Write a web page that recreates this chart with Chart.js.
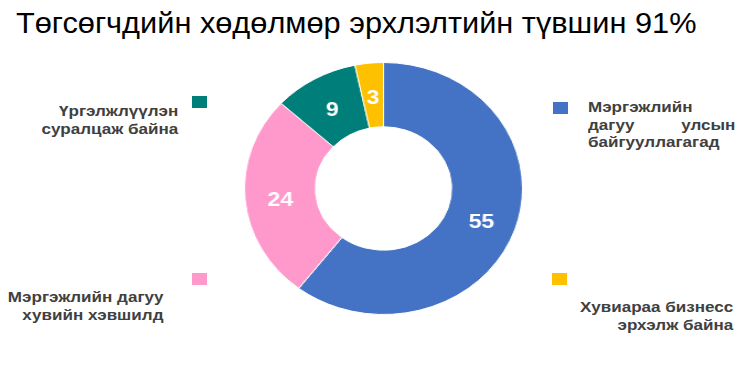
<!DOCTYPE html>
<html>
<head>
<meta charset="utf-8">
<script src="https://cdn.jsdelivr.net/npm/chart.js@4"></script>
<style>
  html, body { margin: 0; padding: 0; background: #fff; }
  body { width: 753px; height: 368px; position: relative; overflow: hidden;
         font-family: 'Liberation Sans', Arial, sans-serif; }
  .title { position: absolute; left: 16px; top: 7px; font-size: 29px; line-height: 1.15;
           color: #000; white-space: nowrap; transform: scaleX(1.06); transform-origin: left top; }
  .ring { position: absolute; left: 257px; top: 62px; width: 253px; height: 253px;
          transform: scaleX(1.103); transform-origin: center; }
  .sq { position: absolute; width: 15px; height: 12px; }
  .lbl { position: absolute; font-size: 15.5px; font-weight: bold; color: #404040;
         line-height: 17.5px; white-space: nowrap; transform: scaleX(1.1); }
  .lbl.l { transform-origin: left top; }
  .lbl.r { text-align: right; transform-origin: right top; }
  .just { display: flex; justify-content: space-between; }
</style>
</head>
<body>
<div class="title" id="title"></div>
<div class="ring"><canvas id="ringChart"></canvas></div>
<div id="legend"></div>

<script>
/* ── Data ── */
const TITLE = 'Төгсөгчдийн хөдөлмөр эрхлэлтийн түвшин 91%';
const categories = [
  'Мэргэжлийн дагуу улсын байгууллагагад',
  'Мэргэжлийн дагуу хувийн хэвшилд',
  'Үргэлжлүүлэн суралцаж байна',
  'Хувиараа бизнесс эрхэлж байна'
];
const values = [55, 24, 9, 3];
const colors = ['#4472C4', '#FF99CC', '#007E7A', '#FFC000'];

document.getElementById('title').textContent = TITLE;

/* ── Legend boxes, placed round the ring like the original ── */
const legendLayout = [
  { sq: [553, 102], box: { left: 588, top: 98, width: 134 }, align: 'l',
    lines: [['Мэргэжлийн'], ['дагуу', 'улсын'], ['байгууллагагад']] },
  { sq: [192, 273], box: { right: 590, top: 288 }, align: 'r',
    lines: [['Мэргэжлийн дагуу'], ['хувийн хэвшилд']] },
  { sq: [192, 96], box: { right: 575, top: 102 }, align: 'r',
    lines: [['Үргэлжлүүлэн'], ['суралцаж байна']] },
  { sq: [552, 273], box: { right: 20, top: 298 }, align: 'r',
    lines: [['Хувиараа бизнесс'], ['эрхэлж байна']] }
];

const legendEl = document.getElementById('legend');
legendLayout.forEach((item, i) => {
  const sq = document.createElement('div');
  sq.className = 'sq';
  sq.style.left = item.sq[0] + 'px';
  sq.style.top = item.sq[1] + 'px';
  sq.style.background = colors[i];
  legendEl.appendChild(sq);

  const lbl = document.createElement('div');
  lbl.className = 'lbl ' + item.align;
  Object.keys(item.box).forEach(k => { lbl.style[k] = item.box[k] + 'px'; });
  item.lines.forEach(words => {
    const line = document.createElement('div');
    if (words.length > 1) {
      line.className = 'just';
      words.forEach(w => {
        const s = document.createElement('span');
        s.textContent = w;
        line.appendChild(s);
      });
    } else {
      line.textContent = words[0];
    }
    lbl.appendChild(line);
  });
  legendEl.appendChild(lbl);
});

/* ── Value labels in the middle of each slice ── */
const sliceLabels = {
  id: 'sliceLabels',
  afterDatasetsDraw(chart) {
    const { ctx } = chart;
    const meta = chart.getDatasetMeta(0);
    ctx.save();
    ctx.fillStyle = '#fff';
    ctx.font = "bold 21px 'Liberation Sans', Arial, sans-serif";
    ctx.textAlign = 'center';
    ctx.textBaseline = 'alphabetic';
    meta.data.forEach((arc, i) => {
      const p = arc.tooltipPosition();
      // baseline sits half a cap height under the slice centre
      ctx.fillText(String(chart.data.datasets[0].data[i]), p.x, p.y + 9);
    });
    ctx.restore();
  }
};

new Chart(document.getElementById('ringChart'), {
  type: 'doughnut',
  data: {
    labels: categories,
    datasets: [{
      data: values,
      backgroundColor: colors,
      borderColor: '#fff',
      borderWidth: 1
    }]
  },
  options: {
    responsive: true,
    maintainAspectRatio: false,
    animation: false,
    cutout: '49%',
    layout: { padding: 0 },
    plugins: {
      legend: { display: false },
      tooltip: { enabled: false },
      title: { display: false }
    }
  },
  plugins: [sliceLabels]
});
</script>
</body>
</html>
